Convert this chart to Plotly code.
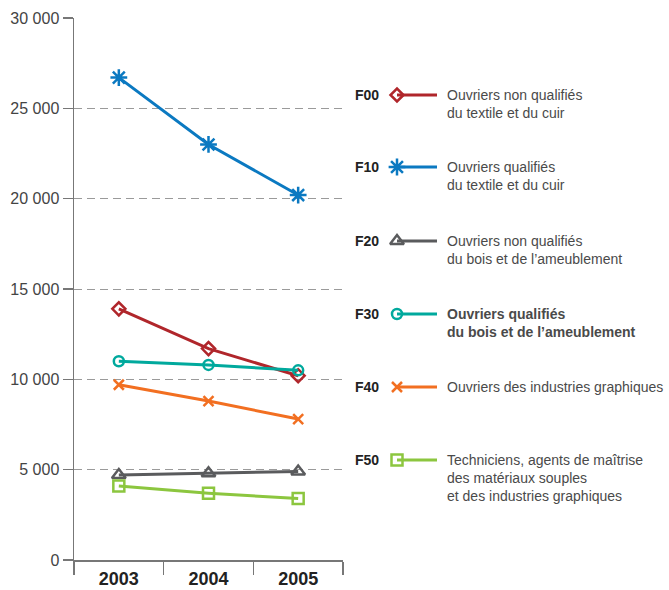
import plotly.graph_objects as go

years = ["2003", "2004", "2005"]
codes = ["F00", "F10", "F20", "F30", "F40", "F50"]
labels = [
    "Ouvriers non qualifiés<br>du textile et du cuir",
    "Ouvriers qualifiés<br>du textile et du cuir",
    "Ouvriers non qualifiés<br>du bois et de l’ameublement",
    "<b>Ouvriers qualifiés<br>du bois et de l’ameublement</b>",
    "Ouvriers des industries graphiques",
    "Techniciens, agents de maîtrise<br>des matériaux souples<br>et des industries graphiques",
]
f00 = [13900, 11700, 10200]
f10 = [26700, 23000, 20200]
f20 = [4700, 4800, 4900]
f30 = [11000, 10800, 10500]
f40 = [9700, 8800, 7800]
f50 = [4100, 3700, 3400]
series = [f00, f10, f20, f30, f40, f50]
y_ticks = [0, 5000, 10000, 15000, 20000, 25000, 30000]
y_ticktext = ["0", "5 000", "10 000", "15 000", "20 000", "25 000", "30 000"]

# styles
colors = ["#b0262b", "#0b79c1", "#5a5b5d", "#00a99d", "#f26f21", "#8cc63f"]
symbols = ["diamond-open", "asterisk-open", "triangle-up-open", "circle-open", "x-thin-open", "square-open"]
msizes = [10, 14, 12, 10, 10, 11]

W, H = 669, 590
ML, MR, MT, MB = 74, 0, 18, 30
plot_right = 343
# legend layout (pixel positions in page space)
leg_y = [95, 167, 241, 314, 387, 460]
leg_code_x = 380
leg_mark_x = 397
leg_line_end = 437
leg_text_x = 446

fig = go.Figure()
for code, lab, vals, c, s, ms in zip(codes, labels, series, colors, symbols, msizes):
    fig.add_trace(go.Scatter(
        x=years, y=vals, mode="lines+markers", name=code,
        line=dict(color=c, width=3),
        marker=dict(symbol=s, size=ms, color=c, line=dict(color=c, width=2.5)),
        cliponaxis=False, showlegend=False,
    ))

# legend markers on a separate pixel-space axis pair
for i, (c, s, ms) in enumerate(zip(colors, symbols, msizes)):
    y = leg_y[i]
    fig.add_shape(type="line", xref="x2", yref="y2", x0=leg_mark_x, x1=leg_line_end,
                  y0=y, y1=y, line=dict(color=c, width=3))
    fig.add_trace(go.Scatter(
        x=[leg_mark_x], y=[y], xaxis="x2", yaxis="y2", mode="markers",
        marker=dict(symbol=s, size=ms, color=c, line=dict(color=c, width=2.5)),
        cliponaxis=False, showlegend=False, hoverinfo="skip",
    ))
    fig.add_annotation(xref="x2", yref="y2", x=leg_code_x, y=y, text="<b>%s</b>" % codes[i],
                       xanchor="right", yanchor="middle", showarrow=False, borderpad=0,
                       font=dict(size=14, color="#222222", family="Liberation Sans"))
    fig.add_annotation(xref="x2", yref="y2", x=leg_text_x, y=y - 9, text=labels[i],
                       xanchor="left", yanchor="top", align="left", showarrow=False, borderpad=0,
                       font=dict(size=14, color="#4a4a4a", family="Liberation Sans"))

dom_end = (plot_right - ML) / (W - ML - MR)
fig.update_layout(
    template="none",
    width=W, height=H,
    margin=dict(l=ML, r=MR, t=MT, b=MB, pad=0, autoexpand=False),
    paper_bgcolor="white", plot_bgcolor="rgba(0,0,0,0)",
    showlegend=False,
    font=dict(family="Liberation Sans", color="#444444"),
    xaxis=dict(
        type="category", domain=[0, dom_end], range=[-0.5, 2.5], automargin=False,
        tickson="boundaries", ticks="outside", ticklen=13, tickwidth=1.5, tickcolor="#777777",
        showline=True, linecolor="#777777", linewidth=1.5, showgrid=False,
        tickfont=dict(size=18, color="#222222", family="Liberation Sans", weight="bold"),
        ticklabelstandoff=2,
        fixedrange=True, anchor="y",
    ),
    yaxis=dict(
        range=[0, 30000], tickvals=y_ticks, ticktext=y_ticktext, automargin=False,
        ticks="outside", ticklen=10, tickwidth=1.5, tickcolor="#777777",
        showline=True, linecolor="#777777", linewidth=1.5,
        showgrid=True, gridcolor="#9a9a9a", gridwidth=1, griddash="8px,5px",
        zeroline=False, tickfont=dict(size=16, color="#444444"),
        fixedrange=True, anchor="x",
    ),
    xaxis2=dict(domain=[0, 1], range=[ML, W - MR], visible=False, anchor="y2", fixedrange=True),
    yaxis2=dict(domain=[0, 1], range=[H - MB, MT], visible=False, anchor="x2", fixedrange=True),
)

fig.write_html(
    "out.html",
    config={"displayModeBar": False, "staticPlot": True},
    post_script="document.body.style.margin='0px';document.body.style.overflow='hidden';",
)
